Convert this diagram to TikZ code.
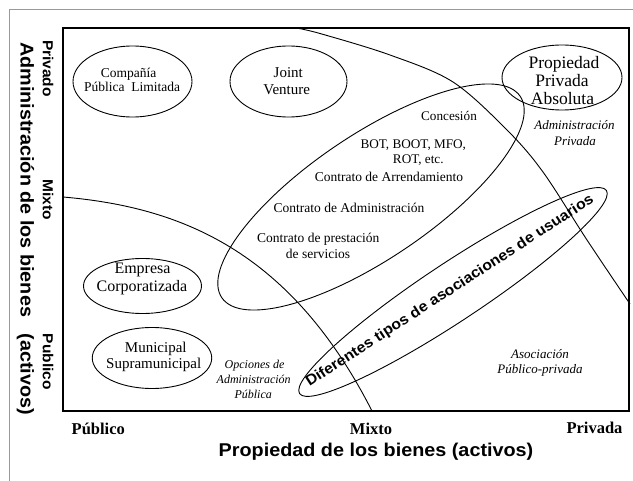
\documentclass[tikz,border=0pt]{standalone}
\usepackage{fontspec}
\setmainfont{Liberation Serif}
\newfontfamily\hvh[FakeStretch=1.07]{Liberation Sans Bold}
\usetikzlibrary{shapes.geometric}
\newcommand\myfs[1]{\fontsize{#1}{#1}\selectfont}
\begin{document}
\begin{tikzpicture}[x=1pt,y=-1pt,
  oval/.style={ellipse, draw, line width=0.9pt, inner sep=0pt},
  bound/.style={line width=0.9pt},
  txt/.style={anchor=base, inner sep=0pt},
  it/.style={txt, font=\itshape},
  axl/.style={txt, font=\bfseries\myfs{16.5}},
  sfl/.style={inner sep=0pt, font=\hvh\myfs{18.5}},
  sfs/.style={inner sep=0pt, rotate=-90, font=\hvh\myfs{14.5}}]
\useasboundingbox (0,0) rectangle (633,481);
% outer grey frame
\coordinate (fa) at (9.5,481);
\coordinate (fb) at (9.5,9.5);
\coordinate (fc) at (633,9.5);
\draw[gray!80, line width=1.4pt] (fa) -- (fb) -- (fc);
% inner frame
\node[draw, line width=1.3pt, inner sep=0pt, minimum width=566pt, minimum height=383pt] (box) at (346,219.5) {};
% ovals
\node[oval, minimum width=119pt, minimum height=71pt] (e1) at (132.5,81.5) {};
\node[oval, minimum width=117pt, minimum height=71pt] (e2) at (288.5,81.5) {};
\node[oval, minimum width=120pt, minimum height=65pt] (e3) at (562,77.5) {};
\node[oval, minimum width=118pt, minimum height=55pt] (e4) at (142.5,286) {};
\node[oval, minimum width=119.5pt, minimum height=61pt] (e5) at (152,358) {};
\node[oval, minimum width=360pt, minimum height=124pt, rotate=34] (big) at (371,197) {};
\node[oval, minimum width=368pt, minimum height=58pt, rotate=33.5] (usr) at (453,292) {};
% boundary curves
\coordinate (pa) at (63,197);
\coordinate (pb) at (372,411);
\draw[bound] (pa) .. controls (180,207) and (290,250) .. (pb);
\draw[bound] plot[smooth, tension=0.55] coordinates {(296,28) (320,33.5) (390,55) (453,82) (507,130) (543,172) (587,240) (630,304)};
% texts in ovals
\node[txt, font=\myfs{13.5}] (t1a) at (128.5,77.5) {Compañía};
\node[txt, font=\myfs{13.5}] (t1b) at (132,92) {Pública\ \ Limitada};
\node[txt, font=\myfs{15}] (t2a) at (288.3,77.3) {Joint};
\node[txt, font=\myfs{15}] (t2b) at (286.7,95) {Venture};
\node[txt, font=\myfs{17.5}] (t3a) at (564,68.5) {Propiedad};
\node[txt, font=\myfs{17.5}] (t3b) at (562,86.5) {Privada};
\node[txt, font=\myfs{17.5}] (t3c) at (562.5,105) {Absoluta};
\node[txt, font=\myfs{16}] (t4a) at (142.5,273.3) {Empresa};
\node[txt, font=\myfs{16}] (t4b) at (142,291.7) {Corporatizada};
\node[txt, font=\myfs{15}] (t5a) at (155.8,352.7) {Municipal};
\node[txt, font=\myfs{15}] (t5b) at (153.7,368.3) {Supramunicipal};
% contract texts
\node[txt, font=\myfs{13.2}] (c1) at (449,120.5) {Concesión};
\node[txt, font=\myfs{13.2}] (c2) at (413.3,149) {BOT, BOOT, MFO,};
\node[txt, font=\myfs{13.2}] (c3) at (418.3,164) {ROT, etc.};
\node[txt, font=\myfs{13.5}] (c4) at (389,181.5) {Contrato de Arrendamiento};
\node[txt, font=\myfs{13.5}] (c5) at (349,212.3) {Contrato de Administración};
\node[txt, font=\myfs{13.5}] (c6) at (318.3,242.7) {Contrato de prestación};
\node[txt, font=\myfs{13.5}] (c7) at (318,258.3) {de servicios};
% italic labels
\node[it, font=\itshape\myfs{13}] (i1) at (574.5,130) {Administración};
\node[it, font=\itshape\myfs{13}] (i2) at (575,145.7) {Privada};
\node[it, font=\itshape\myfs{12}] (i3) at (254.5,368.3) {Opciones de};
\node[it, font=\itshape\myfs{12}] (i4) at (253.7,384) {Administración};
\node[it, font=\itshape\myfs{12}] (i5) at (253.2,398.3) {Pública};
\node[it, font=\itshape\myfs{13}] (i6) at (540,358.3) {Asociación};
\node[it, font=\itshape\myfs{13}] (i7) at (540,374) {Público-privada};
% user associations
\node[inner sep=0pt, rotate=33, font=\hvh\myfs{14.8}] (ut) at (450,291) {Diferentes tipos de asociaciones de usuarios};
% axes labels
\node[axl] (xa) at (98.3,435) {Público};
\node[axl] (xb) at (371,435) {Mixto};
\node[axl] (xc) at (594.5,434) {Privada};
\node[sfl] (xt) at (376,452) {Propiedad de los bienes (activos)};
\node[sfl, rotate=-90] (yt) at (25.5,228.5) {Administración de los bienes\ \ \ (activos)};
\node[sfs] (ya) at (48,68.5) {Privado};
\node[sfs] (yb) at (48,200) {Mixto};
\node[sfs] (yc) at (48,362) {Publico};
\end{tikzpicture}
\end{document}
